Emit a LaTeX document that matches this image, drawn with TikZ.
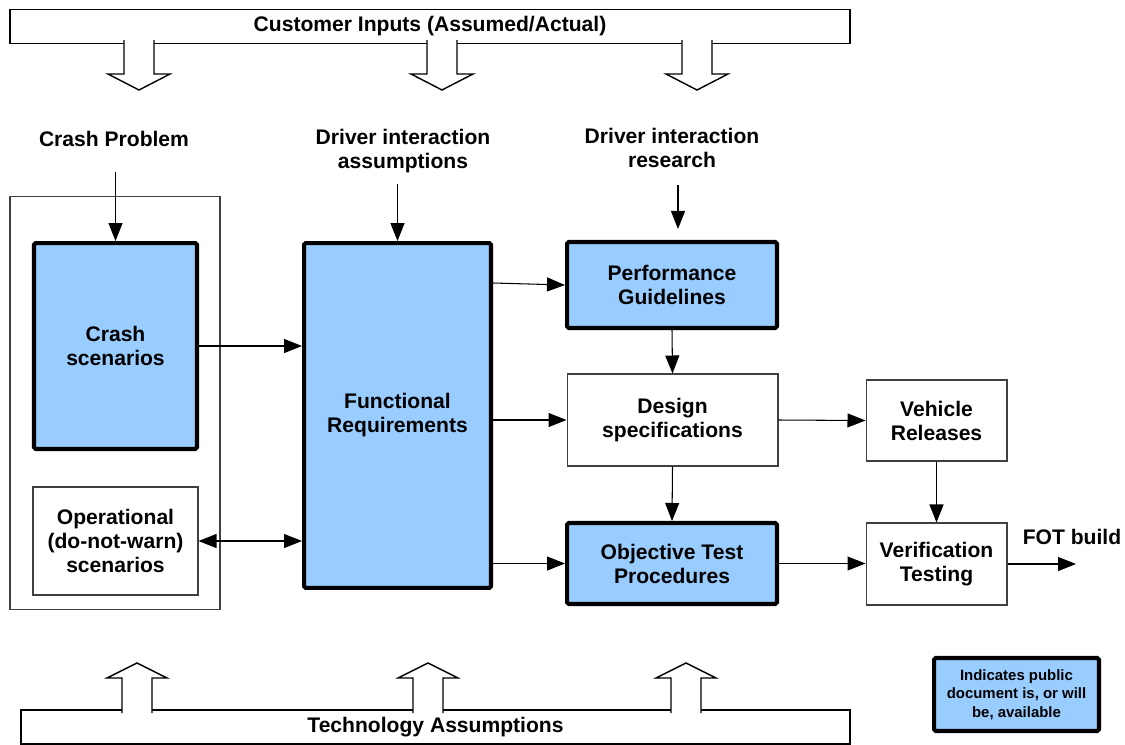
\documentclass[tikz,border=0pt]{standalone}
\usepackage{fontspec}
\setmainfont{Liberation Sans}
\usetikzlibrary{positioning}
\usetikzlibrary{arrows.meta}
\definecolor{pubblue}{HTML}{99CCFF}
\tikzset{
    pubbox/.style = {rectangle, line width=2.3pt, draw=black, fill=pubblue, align=center, rounded corners=1pt},
    plainbox/.style = {rectangle, line width=0.6pt, draw=black!75, fill=white, align=center},
    framebox/.style = {rectangle, line width=0.6pt, draw=black!75},
    bannerbox/.style = {rectangle, line width=0.9pt, draw=black, fill=white},
    bigarrow/.style = {line width=0.8pt, draw=black, fill=white},
    mylabel/.style = {align=center},
    edgen/.style = {-{Triangle[length=3.6mm,width=2.8mm]}, line width=0.6pt},
    edgedd/.style = {{Triangle[length=3.6mm,width=2.8mm]}-{Triangle[length=3.6mm,width=2.8mm]}, line width=0.6pt},
    every picture/.style={font issue=\fontsize{12}{13.7}\bfseries},
    font issue/.style={execute at begin picture={#1\selectfont}
  }
}

\begin{document}
\begin{tikzpicture}[x=0.02cm, y=-0.02cm]
\useasboundingbox (0,0) rectangle (1125,744);
%
\node[bannerbox, minimum width=16.8cm, minimum height=0.58cm] at (430, 26.5) (custin) {Customer Inputs (Assumed/Actual)};
\node[bannerbox, minimum width=16.58cm, minimum height=0.6cm] at (435.5, 727) (techas) {Technology Assumptions};
\foreach \x in {139, 442, 697}
  \filldraw[bigarrow] ({\x-15}, 40) -- ({\x-15}, 74) -- ({\x-31}, 74) -- (\x, 90) -- ({\x+31}, 74) -- ({\x+15}, 74) -- ({\x+15}, 40);
\foreach \x in {137, 428, 686}
  \filldraw[bigarrow] ({\x-15}, 713) -- ({\x-15}, 678) -- ({\x-30}, 678) -- (\x, 663) -- ({\x+30}, 678) -- ({\x+15}, 678) -- ({\x+15}, 713);
%
\node[mylabel] at (114, 139) (crashprob) {Crash Problem};
\node[mylabel] at (403, 151) (dia) {Driver interaction\\assumptions};
\node[mylabel] at (672, 148) (dir) {Driver interaction\\research};
\node[mylabel] at (1072, 537) (fot) {FOT build};
%
\node[framebox, minimum width=4.2cm, minimum height=8.28cm] at (115, 403) (scen) {};
\node[pubbox, minimum width=3.26cm, minimum height=4.12cm] at (115.5, 346) (crash) {Crash\\scenarios};
\node[plainbox, minimum width=3.3cm, minimum height=2.16cm] at (115.5, 541) (oper) {Operational\\(do-not-warn)\\scenarios};
\node[pubbox, minimum width=3.74cm, minimum height=6.9cm] at (397.5, 415.5) (func) {Functional\\Requirements};
\node[pubbox, minimum width=4.2cm, minimum height=1.72cm] at (672, 285) (perf) {Performance\\Guidelines};
\node[plainbox, minimum width=4.22cm, minimum height=1.84cm] at (672.5, 420) (design) {Design\\specifications};
\node[pubbox, minimum width=4.2cm, minimum height=1.62cm] at (672, 563.5) (objtest) {Objective Test\\Procedures};
\node[plainbox, minimum width=2.82cm, minimum height=1.62cm] at (936.5, 420.5) (vehicle) {Vehicle\\Releases};
\node[plainbox, minimum width=2.82cm, minimum height=1.64cm] at (936.5, 564) (verif) {Verification\\Testing};
\node[pubbox, minimum width=3.3cm, minimum height=1.46cm, font=\fontsize{8.5}{10.4}\selectfont\bfseries] at (1016.5, 694.5) (legend) {Indicates public\\document is, or will\\be, available};
\coordinate (fotend) at (1076, 564);
%
\draw[edgen, shorten <=0.36cm] (crash.north |- crashprob.south) -- (crash.north);
\draw[edgen, shorten <=0.08cm] (func.north |- dia.south) -- (func.north);
\draw[edgen, shorten <=0.2cm, shorten >=0.22cm] ([xshift=0.12cm]dir.south) -- ([xshift=0.12cm]perf.north);
\draw[edgen] (crash.east) -- (crash.east -| func.west);
\draw[edgedd] (oper.east) -- (oper.east -| func.west);
\draw[edgen] ([yshift=0.04cm]func.east |- perf.west) -- (perf.west);
\draw[edgen] (func.east |- design.west) -- (design.west);
\draw[edgen] (func.east |- objtest.west) -- (objtest.west);
\draw[edgen] (perf.south) -- (design.north);
\draw[edgen] (design.south) -- (objtest.north);
\draw[edgen] (design.east) -- (vehicle.west);
\draw[edgen] (vehicle.south) -- (verif.north);
\draw[edgen] (objtest.east) -- (objtest.east -| verif.west);
\draw[edgen] (verif.east) -- (fotend);

\end{tikzpicture}
\end{document}
